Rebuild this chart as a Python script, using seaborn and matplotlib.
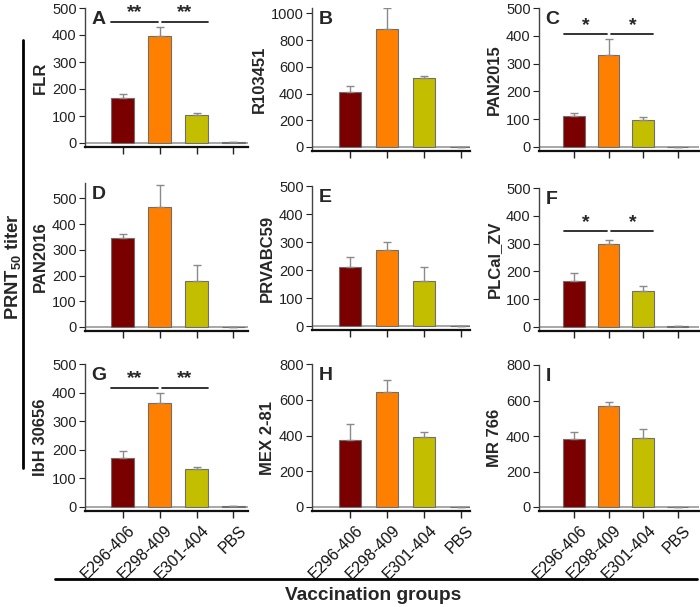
import numpy as np
import matplotlib
matplotlib.use("Agg")
import matplotlib.pyplot as plt
import seaborn as sns
from matplotlib.lines import Line2D
from matplotlib.transforms import ScaledTranslation

# Data
groups = ["E296-406", "E298-409", "E301-404", "PBS"]
colors = ["#7a0000", "#ff8000", "#c4be00", "#b0b0b0"]

strains = ["FLR", "R103451", "PAN2015",
           "PAN2016", "PRVABC59", "PLCal_ZV",
           "IbH 30656", "MEX 2-81", "MR 766"]
letters = ["A", "B", "C", "D", "E", "F", "G", "H", "I"]

means = [
    [165, 398, 103, 2],
    [415, 882, 518, 2],
    [113, 332, 98, 0],
    [345, 468, 180, 0],
    [212, 273, 160, 0],
    [167, 297, 129, 2],
    [170, 365, 132, 2],
    [375, 645, 390, 0],
    [383, 570, 390, 0],
]
errors = [
    [15, 30, 7, 0],
    [40, 160, 15, 0],
    [8, 57, 10, 0],
    [15, 85, 63, 0],
    [33, 27, 50, 0],
    [28, 17, 17, 0],
    [25, 35, 8, 0],
    [88, 65, 30, 0],
    [40, 22, 50, 0],
]
ymax = [500, 1040, 500, 560, 500, 500, 500, 800, 800]
yticks = [np.arange(0, 501, 100), np.arange(0, 1001, 200), np.arange(0, 501, 100),
          np.arange(0, 501, 100), np.arange(0, 501, 100), np.arange(0, 501, 100),
          np.arange(0, 501, 100), np.arange(0, 801, 200), np.arange(0, 801, 200)]
# significance: (stars, bracket height, star height)
signif = {0: ("**", 448, 482), 2: ("*", 405, 438), 5: ("*", 345, 375), 6: ("**", 417, 450)}

sns.set_theme(style="ticks")
plt.rcParams["font.family"] = ["Liberation Sans", "DejaVu Sans"]
plt.rcParams["mathtext.fontset"] = "custom"
plt.rcParams["mathtext.rm"] = "Liberation Sans"
plt.rcParams["mathtext.bf"] = "Liberation Sans:bold"

W, H = 700, 607
fig = plt.figure(figsize=(7, 6.07), dpi=100)

# pixel layout per column (left, first tick, spacing, right) and per panel (top, zero)
cols = [(85, 122.5, 37, 248), (312, 350, 37, 470), (539, 574, 34.5, 699)]
rows = [[(8, 143), (8, 147), (8, 147)],
        [(183, 327), (186, 326), (188, 327)],
        [(364, 507), (364, 507), (365, 507)]]

for i in range(9):
    r, c = divmod(i, 3)
    left, t0, sp, right = cols[c]
    top, zero = rows[r][c]
    pad = 4  # px between zero line and bottom spine
    ax = fig.add_axes([left / W, 1 - (zero + pad) / H, (right - left) / W, (zero + pad - top) / H])

    sns.barplot(x=groups, y=means[i], hue=groups, palette=colors, legend=False,
                saturation=1, width=0.62, edgecolor="#6e6e6e", linewidth=0.8, ax=ax)
    ax.errorbar(np.arange(4), means[i], yerr=[np.zeros(4), errors[i]], fmt="none",
                ecolor="#8a8a8a", elinewidth=1, capsize=3, capthick=1)

    unit = ymax[i] / (zero - top)
    ax.set_ylim(-pad * unit, ymax[i])
    ax.set_xlim((left - t0) / sp, (right - t0) / sp)
    ax.axhline(0, color="#a0a0a0", lw=1.3, zorder=0.5)
    ax.set_yticks(yticks[i])
    ax.tick_params(axis="y", labelsize=10.5, colors="#222222", length=4, width=0.8, pad=2)
    ax.set_xticks(range(4))
    ax.tick_params(axis="x", bottom=True, length=5, width=1, direction="out", color="#222222")
    for s in ["top", "right"]:
        ax.spines[s].set_visible(False)
    ax.spines["left"].set_color("#444444")
    ax.spines["left"].set_linewidth(1)
    ax.spines["bottom"].set_color("#111111")
    ax.spines["bottom"].set_linewidth(1.6)
    ax.spines["bottom"].set_zorder(5)

    if r == 2:
        ax.set_xticklabels(groups, rotation=45, ha="right", rotation_mode="anchor",
                           fontsize=11.5, color="#111111")
        shift = ScaledTranslation(5 / 100, 0, fig.dpi_scale_trans)
        for lab in ax.get_xticklabels():
            lab.set_transform(lab.get_transform() + shift)
    else:
        ax.set_xticklabels([])
    ax.set_xlabel("")
    ax.set_ylabel(strains[i], fontsize=12, fontweight="bold", labelpad=3)
    ax.text(0.04, 0.98, letters[i], transform=ax.transAxes, fontsize=14,
            fontweight="bold", va="top", ha="left")

    if i in signif:
        stars, yb, ys = signif[i]
        ax.plot([-0.3, 0.95], [yb, yb], color="#222222", lw=1.3, clip_on=False)
        ax.plot([1.08, 2.3], [yb, yb], color="#222222", lw=1.3, clip_on=False)
        ax.text(0.33, ys, stars, ha="center", va="center", fontsize=14, fontweight="bold")
        ax.text(1.69, ys, stars, ha="center", va="center", fontsize=14, fontweight="bold")

# overall labels and rules
fig.add_artist(Line2D([23 / W, 23 / W], [1 - 40 / H, 1 - 468 / H], color="black", lw=2))
fig.text(13 / W, 1 - 267 / H, r"PRNT$_{\mathbf{50}}$ titer", rotation=90,
         ha="center", va="center", fontsize=13.2, fontweight="bold")
fig.add_artist(Line2D([55 / W, 697 / W], [1 - 579 / H, 1 - 579 / H], color="black", lw=2))
fig.text(373 / W, 1 - 595 / H, "Vaccination groups", ha="center", va="center",
         fontsize=13.8, fontweight="bold")

fig.savefig("out.png", dpi=100)
